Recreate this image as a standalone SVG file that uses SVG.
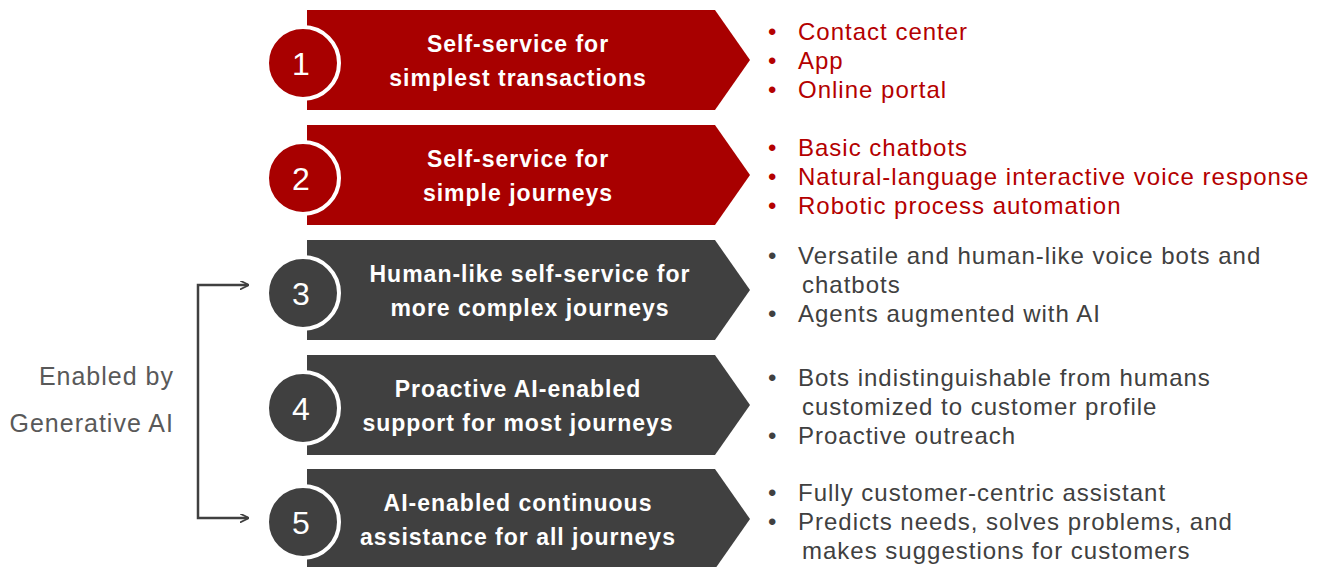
<svg xmlns="http://www.w3.org/2000/svg" width="1327" height="567" viewBox="0 0 1327 567">
<defs>
<marker id="ah" viewBox="0 0 10 10" refX="9" refY="5" markerWidth="9" markerHeight="9" markerUnits="userSpaceOnUse" orient="auto"><path d="M0,0 L10,5 L0,10" fill="none" stroke="#404040" stroke-width="2"/></marker>
<style>
.red{fill:#A80000}
.gry{fill:#404040}
.circ{stroke:#fff;stroke-width:4}
.lbl{font-family:"Liberation Sans",Arial,sans-serif;font-weight:bold;font-size:23px;letter-spacing:1px;fill:#fff;text-anchor:middle}
.num{font-family:"Liberation Sans",Arial,sans-serif;font-size:32px;fill:#fff;text-anchor:middle}
.bt{font-family:"Liberation Sans",Arial,sans-serif;font-size:24px;letter-spacing:1px}
.br{fill:#B40000}
.bg{fill:#404040}
.side{font-family:"Liberation Sans",Arial,sans-serif;font-size:25px;letter-spacing:1px;fill:#595959;text-anchor:end}
.conn{fill:none;stroke:#404040;stroke-width:2.5}
</style>
</defs>
<rect width="1327" height="567" fill="#fff"/>
<g id="connectors">
<path class="conn" d="M198,400 L198,285 L248,285" marker-end="url(#ah)"/>
<path class="conn" d="M198,400 L198,518 L248,518" marker-end="url(#ah)"/>
</g>
<g id="side-label">
<text class="side" x="174" y="385">Enabled by</text>
<text class="side" x="174" y="432">Generative AI</text>
</g>
<g id="node1">
<path class="red" d="M307,10 L715,10 L750,60 L715,110 L307,110 Z"/>
<circle class="red circ" cx="303" cy="63" r="36"/>
<text class="num" x="301" y="75">1</text>
<text class="lbl" x="518" y="52">Self-service for</text>
<text class="lbl" x="518" y="86">simplest transactions</text>
<g class="bt br"><text x="768" y="40">•</text><text x="798" y="40">Contact center</text><text x="768" y="69">•</text><text x="798" y="69">App</text><text x="768" y="98">•</text><text x="798" y="98">Online portal</text></g>
</g>
<g id="node2">
<path class="red" d="M307,125 L715,125 L750,175 L715,225 L307,225 Z"/>
<circle class="red circ" cx="303" cy="178" r="36"/>
<text class="num" x="301" y="190">2</text>
<text class="lbl" x="518" y="167">Self-service for</text>
<text class="lbl" x="518" y="201">simple journeys</text>
<g class="bt br"><text x="768" y="156">•</text><text x="798" y="156">Basic chatbots</text><text x="768" y="185">•</text><text x="798" y="185">Natural-language interactive voice response</text><text x="768" y="214">•</text><text x="798" y="214">Robotic process automation</text></g>
</g>
<g id="node3">
<path class="gry" d="M307,240 L715,240 L750,290 L715,340 L307,340 Z"/>
<circle class="gry circ" cx="303" cy="293" r="36"/>
<text class="num" x="301" y="305">3</text>
<text class="lbl" x="530" y="282">Human-like self-service for</text>
<text class="lbl" x="530" y="316">more complex journeys</text>
<g class="bt bg"><text x="768" y="264">•</text><text x="798" y="264">Versatile and human-like voice bots and</text><text x="802" y="293">chatbots</text><text x="768" y="322">•</text><text x="798" y="322">Agents augmented with AI</text></g>
</g>
<g id="node4">
<path class="gry" d="M307,355 L715,355 L750,405 L715,455 L307,455 Z"/>
<circle class="gry circ" cx="303" cy="408" r="36"/>
<text class="num" x="301" y="420">4</text>
<text class="lbl" x="518" y="397">Proactive AI-enabled</text>
<text class="lbl" x="518" y="431">support for most journeys</text>
<g class="bt bg"><text x="768" y="386">•</text><text x="798" y="386">Bots indistinguishable from humans</text><text x="802" y="415">customized to customer profile</text><text x="768" y="444">•</text><text x="798" y="444">Proactive outreach</text></g>
</g>
<g id="node5">
<path class="gry" d="M307,469 L715,469 L750,519 L715,569 L307,569 Z"/>
<circle class="gry circ" cx="303" cy="522" r="36"/>
<text class="num" x="301" y="534">5</text>
<text class="lbl" x="518" y="511">AI-enabled continuous</text>
<text class="lbl" x="518" y="545">assistance for all journeys</text>
<g class="bt bg"><text x="768" y="501">•</text><text x="798" y="501">Fully customer-centric assistant</text><text x="768" y="530">•</text><text x="798" y="530">Predicts needs, solves problems, and</text><text x="802" y="559">makes suggestions for customers</text></g>
</g>
</svg>
